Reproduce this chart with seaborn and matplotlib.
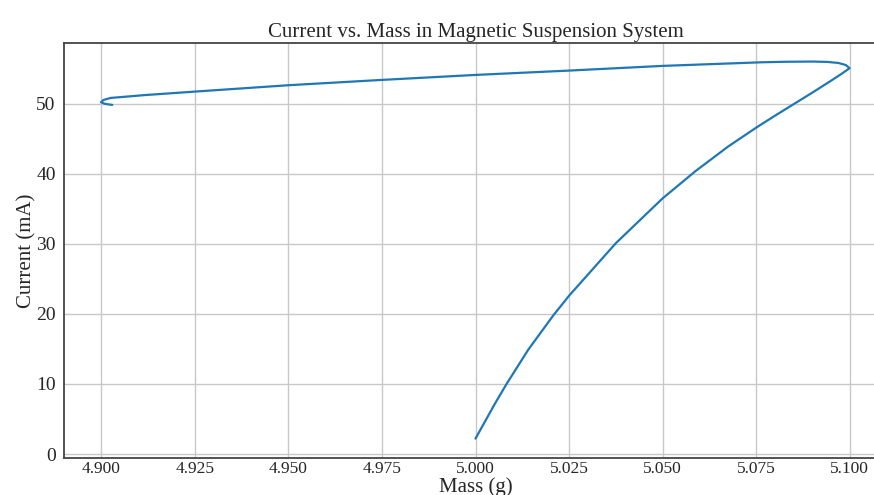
import numpy as np
import pandas as pd
import seaborn as sns
import matplotlib.pyplot as plt

# values, in trace order
mass_g = [5.0000, 5.0052, 5.0083, 5.0141, 5.0208, 5.0250, 5.0375, 5.0500,
          5.0588, 5.0675, 5.0750, 5.0800, 5.0850, 5.0900, 5.0950, 5.0980,
          5.1000, 5.0990, 5.0970, 5.0940, 5.0901, 5.0830, 5.0767, 5.0500,
          5.0250, 5.0000, 4.9750, 4.9500, 4.9250, 4.9113, 4.9024, 4.9005,
          4.8999, 4.9010, 4.9029]
current_ma = [2.2, 7.2, 10.0, 14.9, 19.8, 22.6, 30.1, 36.5,
              40.4, 43.9, 46.6, 48.3, 49.95, 51.6, 53.3, 54.35,
              55.1, 55.55, 55.85, 56.0, 56.05, 56.02, 55.95, 55.43,
              54.76, 54.14, 53.43, 52.67, 51.76, 51.25, 50.85, 50.55,
              50.24, 50.0, 49.86]
x_ticks = [4.900, 4.925, 4.950, 4.975, 5.000, 5.025, 5.050, 5.075, 5.100]
y_ticks = [0, 10, 20, 30, 40, 50]


def main():
    sns.set_style("whitegrid")
    plt.rcParams['font.family'] = ['Liberation Serif', 'DejaVu Serif']

    df = pd.DataFrame({'Mass (g)': mass_g, 'Current (mA)': current_ma})

    fig = plt.figure(figsize=(8.74, 4.95), dpi=100)
    ax = fig.add_axes([64 / 874, 1 - 458 / 495, 823 / 874, (458 - 43) / 495])
    sns.lineplot(x='Mass (g)', y='Current (mA)', data=df, sort=False,
                 estimator=None, color='#1f77b4', linewidth=1.6, ax=ax)

    ax.set_xlim(4.89, 5.11)
    ax.set_ylim(-0.57, 58.7)
    ax.set_xticks(x_ticks)
    ax.set_xticklabels(['%.3f' % v for v in x_ticks])
    ax.set_yticks(y_ticks)

    ax.grid(True, color='#c8c8c8', linewidth=1.0)
    for side in ['left', 'bottom', 'top']:
        ax.spines[side].set_color('#444444')
        ax.spines[side].set_linewidth(1.3)
    ax.spines['right'].set_visible(False)

    ax.tick_params(axis='y', length=4, width=1, color='#444444', pad=2, labelsize=14)
    ax.tick_params(axis='x', length=0, pad=2, labelsize=12.5)

    ax.set_xlabel('Mass (g)', fontsize=15, labelpad=0)
    ax.set_ylabel('Current (mA)', fontsize=15, labelpad=0)
    ax.set_title('Current vs. Mass in Magnetic Suspension System', fontsize=15, pad=4)

    plt.savefig('out.png', dpi=100)
    plt.close()


if __name__ == "__main__":
    main()
